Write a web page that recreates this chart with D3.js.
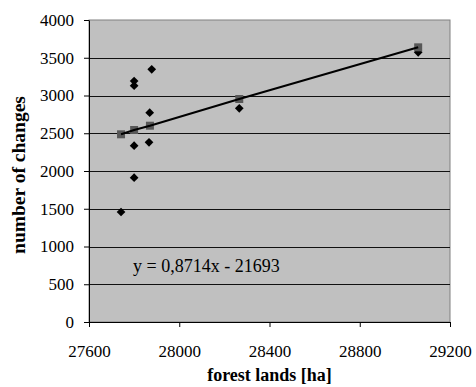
<!DOCTYPE html>
<html>
<head>
<meta charset="utf-8">
<script src="https://cdn.jsdelivr.net/npm/d3@7"></script>
<style>
  html, body { margin: 0; padding: 0; background: #fff; }
  svg { display: block; font-family: 'Liberation Serif', 'Times New Roman', serif; }
</style>
</head>
<body>
<svg id="chart"></svg>
<script>
// observed points
const forestLands = [27742, 27800, 27800, 27800, 27800, 27866, 27869, 27878, 28266, 29059];
const changes = [1457, 3192, 3130, 2335, 1911, 2380, 2772, 3347, 2830, 3572];

// fitted values (trend series)
const fitLands = [27742, 27800, 27870, 28266, 29059];
const fitChanges = [2486, 2543, 2600, 2954, 3638];

const xTicks = [27600, 28000, 28400, 28800, 29200];
const yTicks = [0, 500, 1000, 1500, 2000, 2500, 3000, 3500, 4000];
const equation = 'y = 0,8714x - 21693';

const W = 476, H = 387;
const margin = { top: 20, right: 26, bottom: 65, left: 89 };
const width = W - margin.left - margin.right;
const height = H - margin.top - margin.bottom;

const svg = d3.select('#chart')
  .attr('width', W)
  .attr('height', H);

const g = svg.append('g')
  .attr('transform', 'translate(' + margin.left + ',' + margin.top + ')');

const x = d3.scaleLinear().domain([27600, 29200]).range([0, width]);
const y = d3.scaleLinear().domain([0, 4000]).range([height, 0]);

// plot background
g.append('rect')
  .attr('width', width)
  .attr('height', height)
  .attr('fill', '#c0c0c0')
  .attr('stroke', '#808080')
  .attr('stroke-width', 1);

// gridlines
g.selectAll('.grid')
  .data(yTicks.filter(d => d > 0 && d < 4000))
  .enter().append('line')
  .attr('class', 'grid')
  .attr('x1', 0)
  .attr('x2', width)
  .attr('y1', d => Math.round(y(d)) + 0.5)
  .attr('y2', d => Math.round(y(d)) + 0.5)
  .attr('stroke', '#111')
  .attr('stroke-width', 1);

// axes
const xAxis = g.append('g')
  .attr('transform', 'translate(0,' + height + ')')
  .call(d3.axisBottom(x).tickValues(xTicks).tickFormat(d3.format('d')).tickSizeInner(5).tickSizeOuter(0).tickPadding(18));

const yAxis = g.append('g')
  .call(d3.axisLeft(y).tickValues(yTicks).tickFormat(d3.format('d')).tickSizeInner(5).tickSizeOuter(0).tickPadding(10));

[xAxis, yAxis].forEach(a => {
  a.attr('font-family', 'Liberation Serif, serif');
  a.selectAll('text')
    .style('font-family', 'Liberation Serif, serif')
    .style('font-size', '17px')
    .attr('fill', '#000');
  a.selectAll('line').attr('stroke', '#000');
  a.select('.domain').attr('stroke', '#000');
});

// observed diamonds
const diamond = d3.symbol().type(d3.symbolSquare).size(38);
g.selectAll('.pt')
  .data(forestLands.map((v, i) => [v, changes[i]]))
  .enter().append('path')
  .attr('class', 'pt')
  .attr('d', diamond)
  .attr('transform', d => 'translate(' + x(d[0]) + ',' + y(d[1]) + ') rotate(45)')
  .attr('fill', '#000');

// fitted squares
const fitData = fitLands.map((v, i) => [v, fitChanges[i]]);
g.selectAll('.fit')
  .data(fitData)
  .enter().append('path')
  .attr('class', 'fit')
  .attr('d', d3.symbol().type(d3.symbolSquare).size(64))
  .attr('transform', d => 'translate(' + x(d[0]) + ',' + y(d[1]) + ')')
  .attr('fill', '#585858');

// trend line
g.append('path')
  .datum(fitData)
  .attr('d', d3.line().x(d => x(d[0])).y(d => y(d[1])))
  .attr('fill', 'none')
  .attr('stroke', '#000')
  .attr('stroke-width', 2);

// equation
g.append('text')
  .attr('x', 44)
  .attr('y', 252)
  .style('font-size', '18px')
  .text(equation);

// axis titles
svg.append('text')
  .attr('x', margin.left + width / 2)
  .attr('y', 381)
  .attr('text-anchor', 'middle')
  .style('font-size', '18px')
  .style('font-weight', 'bold')
  .text('forest lands [ha]');

svg.append('text')
  .attr('transform', 'translate(25,175) rotate(-90)')
  .attr('text-anchor', 'middle')
  .style('font-size', '19.5px')
  .style('font-weight', 'bold')
  .text('number of changes');
</script>
</body>
</html>
